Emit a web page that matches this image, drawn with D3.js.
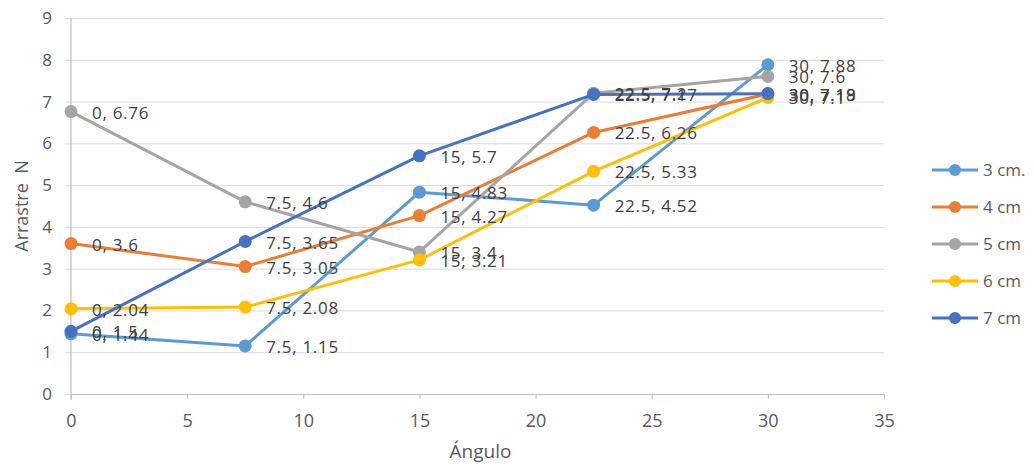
<!DOCTYPE html>
<html>
<head>
<meta charset="utf-8">
<script src="https://cdn.jsdelivr.net/npm/d3@7"></script>
<style>
  body { margin: 0; background: #fff; }
  svg { display: block; }
</style>
</head>
<body>
<svg id="chart" width="1034" height="466"></svg>
<script>
// Angle values on the x axis
const angles = [0, 7.5, 15, 22.5, 30];

// Drag values for each spacing series
const seriesNames = ["3 cm.", "4 cm", "5 cm", "6 cm", "7 cm"];
const drag3 = [1.44, 1.15, 4.83, 4.52, 7.88];
const drag4 = [3.6, 3.05, 4.27, 6.26, 7.18];
const drag5 = [6.76, 4.6, 3.4, 7.2, 7.6];
const drag6 = [2.04, 2.08, 3.21, 5.33, 7.1];
const drag7 = [1.5, 3.65, 5.7, 7.17, 7.19];
const seriesColors = ["#5B9BD5", "#ED7D31", "#A5A5A5", "#FFC000", "#4472C4"];

const xTicks = [0, 5, 10, 15, 20, 25, 30, 35];
const yTicks = [0, 1, 2, 3, 4, 5, 6, 7, 8, 9];

const series = [drag3, drag4, drag5, drag6, drag7].map((vals, i) => ({
  name: seriesNames[i],
  color: seriesColors[i],
  points: vals.map((v, j) => ({ x: angles[j], y: v }))
}));

const svg = d3.select("#chart");
const plotL = 71, plotR = 884, plotT = 18, plotB = 394;
const labelFont = "'Open Sans', 'Noto Sans', sans-serif";
const narrowFont = "'Liberation Sans Narrow', 'Open Sans', sans-serif";

const x = d3.scaleLinear().domain([0, 35]).range([plotL, plotR]);
const y = d3.scaleLinear().domain([0, 9]).range([plotB, plotT]);

// Horizontal gridlines with left tick stubs
svg.append("g")
  .attr("transform", `translate(${plotL},0)`)
  .call(d3.axisLeft(y).tickValues(yTicks).tickSize(-(plotR - plotL)).tickSizeOuter(0).tickPadding(19))
  .call(g => g.select(".domain").remove())
  .call(g => g.selectAll(".tick line").attr("stroke", "#D9D9D9").attr("x1", -6))
  .call(g => g.selectAll(".tick text")
    .attr("fill", "#595959").attr("font-size", 17)
    .attr("font-family", labelFont));

// Vertical axis line
svg.append("line")
  .attr("x1", plotL).attr("x2", plotL).attr("y1", plotT).attr("y2", plotB + 6)
  .attr("stroke", "#BFBFBF").attr("stroke-width", 1.2);

// X axis
svg.append("g")
  .attr("transform", `translate(0,${plotB})`)
  .call(d3.axisBottom(x).tickValues(xTicks).tickSize(5).tickSizeOuter(0).tickPadding(15))
  .call(g => g.select(".domain").attr("stroke", "#BFBFBF").attr("stroke-width", 1.2))
  .call(g => g.selectAll(".tick line").attr("stroke", "#BFBFBF"))
  .call(g => g.selectAll(".tick text")
    .attr("fill", "#595959").attr("font-size", 18)
    .attr("font-family", narrowFont));

// Axis titles
svg.append("text")
  .attr("x", (plotL + plotR) / 2 + 3).attr("y", 458)
  .attr("text-anchor", "middle")
  .attr("fill", "#595959").attr("font-size", 19)
  .attr("font-family", narrowFont)
  .text("Ángulo");

svg.append("text")
  .attr("transform", `translate(28,${(plotT + plotB) / 2}) rotate(-90)`)
  .attr("text-anchor", "middle")
  .attr("fill", "#595959").attr("font-size", 18)
  .attr("font-family", labelFont)
  .style("white-space", "pre")
  .text("Arrastre  N");

// Lines and markers
const line = d3.line().x(d => x(d.x)).y(d => y(d.y));
const sg = svg.append("g").selectAll("g").data(series).join("g");
sg.append("path")
  .attr("d", d => line(d.points))
  .attr("fill", "none")
  .attr("stroke", d => d.color)
  .attr("stroke-width", 3)
  .attr("stroke-linejoin", "round");
sg.selectAll("circle").data(d => d.points.map(p => ({ ...p, color: d.color })))
  .join("circle")
  .attr("cx", d => x(d.x)).attr("cy", d => y(d.y)).attr("r", 6.5)
  .attr("fill", d => d.color);

// Data labels
const lg = svg.append("g");
series.forEach(s => {
  lg.selectAll(null).data(s.points).join("text")
    .attr("x", d => x(d.x) + 21)
    .attr("y", d => y(d.y) + 7)
    .attr("fill", "#404040").attr("font-size", 17)
    .attr("letter-spacing", 0.7)
    .attr("font-family", labelFont)
    .text(d => `${d.x}, ${d.y}`);
});

// Legend
const leg = svg.append("g").selectAll("g").data(series).join("g")
  .attr("transform", (d, i) => `translate(932,${170 + i * 37})`);
leg.append("line").attr("x1", 0).attr("x2", 46).attr("stroke", d => d.color).attr("stroke-width", 3);
leg.append("circle").attr("cx", 23).attr("r", 6).attr("fill", d => d.color);
leg.append("text")
  .attr("x", 51).attr("y", 6)
  .attr("fill", "#595959").attr("font-size", 17)
  .attr("font-family", labelFont)
  .text(d => d.name);
</script>
</body>
</html>
